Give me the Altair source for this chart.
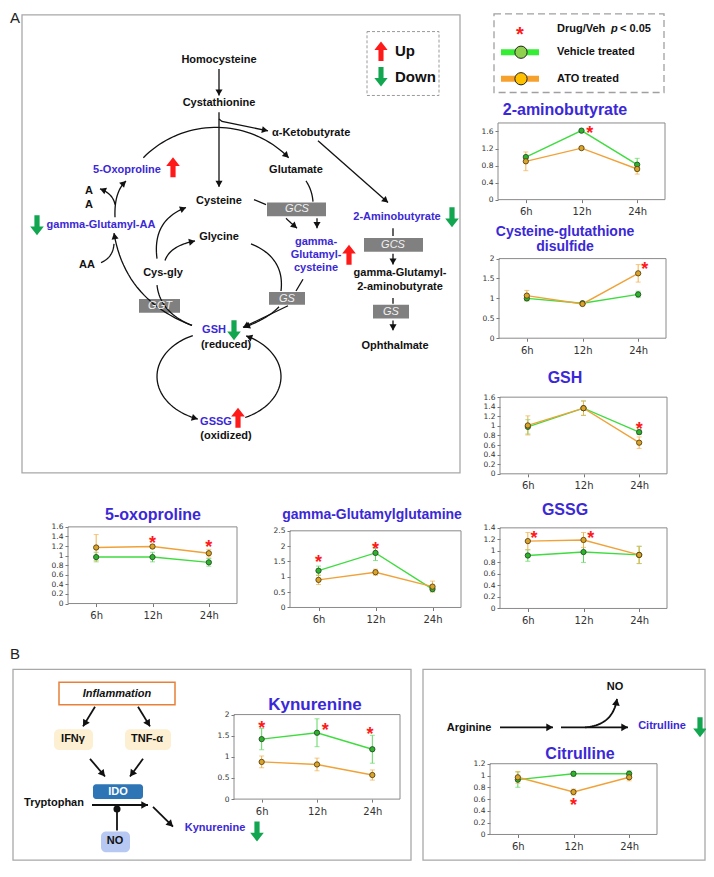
import altair as alt
import numpy as np
import pandas as pd

# ---------------- data ----------------
timepoints = ["6h", "12h", "24h"]

aminobutyrate_vehicle = [1.00, 1.62, 0.82]
aminobutyrate_vehicle_err = [0.04, 0.02, 0.15]
aminobutyrate_ato = [0.90, 1.21, 0.72]
aminobutyrate_ato_err = [0.22, 0.02, 0.12]
aminobutyrate_star_t = [2.15]
aminobutyrate_star_y = [1.66]

cysgsh_vehicle = [1.00, 0.88, 1.10]
cysgsh_vehicle_err = [0.06, 0.03, 0.08]
cysgsh_ato = [1.07, 0.86, 1.63]
cysgsh_ato_err = [0.13, 0.04, 0.22]
cysgsh_star_t = [3.12]
cysgsh_star_y = [1.83]

gsh_vehicle = [0.98, 1.37, 0.87]
gsh_vehicle_err = [0.15, 0.15, 0.05]
gsh_ato = [1.01, 1.37, 0.65]
gsh_ato_err = [0.20, 0.15, 0.12]
gsh_star_t = [3.0]
gsh_star_y = [1.02]

oxoproline_vehicle = [0.97, 0.97, 0.86]
oxoproline_vehicle_err = [0.10, 0.10, 0.08]
oxoproline_ato = [1.17, 1.19, 1.05]
oxoproline_ato_err = [0.27, 0.03, 0.08]
oxoproline_star_t = [2.0, 3.0]
oxoproline_star_y = [1.35, 1.27]

ggg_vehicle = [1.20, 1.78, 0.60]
ggg_vehicle_err = [0.15, 0.25, 0.08]
ggg_ato = [0.90, 1.15, 0.68]
ggg_ato_err = [0.15, 0.10, 0.18]
ggg_star_t = [1.0, 2.0]
ggg_star_y = [1.60, 2.05]

gssg_vehicle = [0.92, 0.98, 0.93]
gssg_vehicle_err = [0.10, 0.18, 0.15]
gssg_ato = [1.17, 1.19, 0.93]
gssg_ato_err = [0.15, 0.13, 0.15]
gssg_star_t = [1.11, 2.13]
gssg_star_y = [1.30, 1.30]

kyn_vehicle = [1.42, 1.57, 1.18]
kyn_vehicle_err = [0.25, 0.33, 0.33]
kyn_ato = [0.88, 0.82, 0.57]
kyn_ato_err = [0.14, 0.15, 0.12]
kyn_star_t = [1.0, 2.15, 2.96]
kyn_star_y = [1.77, 1.74, 1.63]

cit_vehicle = [0.93, 1.03, 1.03]
cit_vehicle_err = [0.13, 0.04, 0.05]
cit_ato = [0.97, 0.72, 0.97]
cit_ato_err = [0.10, 0.05, 0.06]
cit_star_t = [2.0]
cit_star_y = [0.57]

# ---------------- layout / style ----------------
W, H = 698, 854
SY = H / 869.0
FONT = "Liberation Sans"
AXF = "DejaVu Sans"
BLACK = "#111111"
BLUE = "#3b28d6"
RED = "#ff1a1a"
GREEN = "#12a650"


def fx(v):
    return float(v - 8)


def fy(v):
    return float((v - 8) * SY)


DX = alt.Scale(domain=[8, 706], range=[0, W], nice=False, zero=False)
DY = alt.Scale(domain=[8, 877], range=[0, H], nice=False, zero=False)


def XE(f="x"):
    return alt.X(f + ":Q", scale=DX, axis=None)


def YE(f="y"):
    return alt.Y(f + ":Q", scale=DY, axis=None)


def text_layer(rows, weight="bold", style="normal", align="center", font=FONT):
    df = pd.DataFrame(rows, columns=["x", "y", "text", "color", "size"])
    return alt.Chart(df).mark_text(font=font, fontWeight=weight, fontStyle=style,
                                   align=align, baseline="middle").encode(
        x=XE(), y=YE(), text="text:N",
        color=alt.Color("color:N", scale=None),
        size=alt.Size("size:Q", scale=None))


def rect_layer(rows, **kw):
    df = pd.DataFrame(rows, columns=["x", "y", "x2", "y2"])
    return alt.Chart(df).mark_rect(**kw).encode(
        x=XE(), x2="x2:Q", y=YE(), y2="y2:Q")


def qbez(p0, c, p1, n=24):
    t = np.linspace(0, 1, n)
    xs = (1 - t) ** 2 * p0[0] + 2 * (1 - t) * t * c[0] + t ** 2 * p1[0]
    ys = (1 - t) ** 2 * p0[1] + 2 * (1 - t) * t * c[1] + t ** 2 * p1[1]
    return list(zip(xs, ys))


def earc(cx, cy, rx, ry, a0, a1, n=40):
    a = np.radians(np.linspace(a0, a1, n))
    return list(zip(cx + rx * np.cos(a), cy + ry * np.sin(a)))


def path_layers(segments, width, head_size, color=BLACK):
    rows, heads = [], []
    h = 0.866 * np.sqrt(head_size) / 2
    for i, (pts, arrow) in enumerate(segments):
        for j, (px, py) in enumerate(pts):
            rows.append({"seg": i, "order": j, "x": px, "y": py})
        if arrow:
            (x0, y0), (x1, y1) = pts[-2], pts[-1]
            d = np.hypot(x1 - x0, y1 - y0)
            dx, dy = (x1 - x0) / d, (y1 - y0) / d
            ang = float(np.degrees(np.arctan2(dx, -dy)) % 360)
            heads.append({"x": x1 - dx * h, "y": y1 - dy * h, "angle": ang})
    lines = alt.Chart(pd.DataFrame(rows)).mark_line(color=color, strokeWidth=width).encode(
        x=XE(), y=YE(), detail="seg:N", order=alt.Order("order:Q"))
    out = [lines]
    if heads:
        out.append(alt.Chart(pd.DataFrame(heads)).mark_point(
            shape="triangle-up", filled=True, color=color, size=head_size, opacity=1).encode(
            x=XE(), y=YE(), angle=alt.Angle("angle:Q", scale=None)))
    return out


UP_PATH = "M0,-1L0.68,-0.12L0.26,-0.12L0.26,1L-0.26,1L-0.26,-0.12L-0.68,-0.12Z"
DOWN_PATH = "M0,1L0.68,0.12L0.26,0.12L0.26,-1L-0.26,-1L-0.26,0.12L-0.68,0.12Z"


def block_arrows(points, path, color, size=400):
    df = pd.DataFrame(points, columns=["x", "y"])
    return alt.Chart(df).mark_point(shape=path, filled=True, color=color, size=size,
                                    opacity=1).encode(x=XE(), y=YE())


# ---------------- diagram ----------------
layers = []

# panel frames
layers.append(rect_layer([(22, 15, 460, 481), (13, 681, 411, 875), (423, 681, 705, 875)],
                         fillOpacity=0, stroke="#a8a8a8", strokeWidth=1.3))
layers.append(rect_layer([(367, 32, 439, 97)], fillOpacity=0, stroke="#9a9a9a",
                         strokeWidth=1, strokeDash=[3, 2]))
layers.append(rect_layer([(494, 14, 664, 94)], fillOpacity=0, stroke="#a0a0a0",
                         strokeWidth=1.3, strokeDash=[7, 4]))
# enzyme boxes
layers.append(rect_layer([(267, 206, 326, 220), (364, 242, 423, 256), (373, 310, 409, 324),
                          (139, 304, 180, 318), (269, 297, 305, 310)], fill="#808080"))
# glows and boxes of panel B
layers.append(rect_layer([(54, 742, 93, 763), (125, 742, 171, 763)], fill="#fdf0d2",
                         cornerRadius=5))
layers.append(rect_layer([(101, 846, 130, 867)], fill="#b7c9f3", cornerRadius=5))
layers.append(rect_layer([(59, 694, 175, 717)], fill="white", stroke="#e8803a",
                         strokeWidth=1.5))
layers.append(rect_layer([(93, 798, 143, 813)], fill="#2e75b6", cornerRadius=3))

seg_a = [
    ([(219, 70), (219, 97)], True),
    ([(219, 114), (219, 190)], True),
    ([(219, 121), (222, 123.5), (268, 133)], True),
    (earc(216, 230.5, 101, 101, -136, -44), True),
    ([(318, 143), (388, 206)], True),
    (qbez((306, 184), (312, 193), (313, 205)), False),
    ([(317, 222), (317, 232)], True),
    ([(254, 203), (266, 208)], False),
    (qbez((286, 222), (290, 226), (297, 232)), True),
    ([(393, 232), (393, 240)], False),
    ([(393, 258), (393, 269)], True),
    ([(393, 303), (393, 309)], False),
    ([(393, 326), (393, 336)], True),
    ([(303, 284), (296, 296)], False),
    ([(288, 311), (243, 333)], True),
    (qbez((251, 248), (285, 262), (281, 296)), False),
    (qbez((279, 312), (268, 324), (244, 333)), True),
    (qbez((157, 263), (152, 224), (186, 211)), True),
    (qbez((165, 265), (170, 250), (195, 245)), True),
    (qbez((192, 331), (160, 318), (157, 290)), False),
    (qbez((192, 331), (125, 305), (114, 237)), True),
    (qbez((101, 267), (113, 262), (114, 248)), False),
    (qbez((115, 221), (114, 195), (126, 184)), True),
    (qbez((115, 208), (113, 197), (100, 192)), True),
    (earc(219, 383, 62, 46, -115, -250), True),
    (earc(219, 383, 62, 46, 65, -64), True),
]
layers += path_layers(seg_a, 1.3, 50)

seg_b = [
    ([(95, 719), (83, 739)], True),
    ([(138, 719), (150, 739)], True),
    ([(90, 772), (105, 790)], True),
    ([(143, 772), (130, 790)], True),
    ([(92, 819), (148, 819)], True),
    ([(117, 845), (117, 825)], False),
    ([(153, 821), (173, 841)], True),
    ([(500, 740), (553, 740)], True),
    ([(561, 740), (628, 740)], True),
    (qbez((585, 740), (613, 738), (617, 711)), True),
]
layers += path_layers(seg_b, 1.8, 60)
layers.append(alt.Chart(pd.DataFrame({"x": [117], "y": [823]})).mark_point(
    shape="circle", filled=True, color=BLACK, size=50, opacity=1).encode(x=XE(), y=YE()))

# legend markers
layers.append(alt.Chart(pd.DataFrame({"x": [501, 501], "x2": [539, 539], "y": [53, 80],
                                      "c": ["#33ee33", "#f7a12d"]})).mark_rule(strokeWidth=6).encode(
    x=XE(), x2="x2:Q", y=YE(), color=alt.Color("c:N", scale=None)))
layers.append(alt.Chart(pd.DataFrame({"x": [521, 521], "y": [53, 80],
                                      "c": ["#8fd14f", "#ffc000"]})).mark_point(
    shape="circle", filled=True, size=150, stroke="#222222", strokeWidth=1, opacity=1).encode(
    x=XE(), y=YE(), fill=alt.Fill("c:N", scale=None)))

# block arrows
layers.append(block_arrows([(173, 170), (349, 259), (238, 425)], UP_PATH, RED, 400))
layers.append(block_arrows([(37, 229), (452, 221), (234, 336), (257, 846), (700, 740)],
                           DOWN_PATH, GREEN, 400))
layers.append(block_arrows([(381, 52)], UP_PATH, RED, 380))
layers.append(block_arrows([(381, 78)], DOWN_PATH, GREEN, 380))

# texts
bold_center = [
    (219, 61, "Homocysteine", BLACK, 11),
    (219, 105, "Cystathionine", BLACK, 11),
    (296, 173, "Glutamate", BLACK, 11),
    (127, 173, "5-Oxoproline", BLUE, 11),
    (89, 194, "A", BLACK, 11),
    (89, 208, "A", BLACK, 11),
    (101, 229, "gamma-Glutamyl-AA", BLUE, 11),
    (219, 204, "Cysteine", BLACK, 11),
    (219, 241, "Glycine", BLACK, 11),
    (316, 246, "gamma-", BLUE, 11),
    (316, 259, "Glutamyl-", BLUE, 11),
    (316, 273, "cysteine", BLUE, 11),
    (397, 221, "2-Aminobutyrate", BLUE, 11),
    (400, 278, "gamma-Glutamyl-", BLACK, 11),
    (400, 292, "2-aminobutyrate", BLACK, 11),
    (395, 352, "Ophthalmate", BLACK, 11),
    (87, 270, "AA", BLACK, 11),
    (163, 278, "Cys-gly", BLACK, 11),
    (214, 336, "GSH", BLUE, 11),
    (226, 351, "(reduced)", BLACK, 11),
    (216, 429, "GSSG", BLUE, 11),
    (226, 444, "(oxidized)", BLACK, 11),
    (73, 752, "IFNγ", BLACK, 11),
    (147, 752, "TNF-α", BLACK, 11),
    (118, 806, "IDO", "#ffffff", 11),
    (54, 817, "Tryptophan", BLACK, 11),
    (115, 856, "NO", BLACK, 11),
    (215, 842, "Kynurenine", BLUE, 11),
    (469, 741, "Arginine", BLACK, 11),
    (615, 699, "NO", BLACK, 11),
    (662, 739, "Citrulline", BLUE, 11),
    (565, 112, "2-aminobutyrate", BLUE, 16),
    (565, 236, "Cysteine-glutathione", BLUE, 14),
    (565, 251, "disulfide", BLUE, 14),
    (565, 385, "GSH", BLUE, 16),
    (153, 524, "5-oxoproline", BLUE, 16),
    (372, 524, "gamma-Glutamylglutamine", BLUE, 14),
    (565, 519, "GSSG", BLUE, 16),
    (315, 717, "Kynurenine", BLUE, 17),
    (580, 767, "Citrulline", BLUE, 16),
]
bold_left = [
    (272, 135, "α-Ketobutyrate", BLACK, 11),
    (395, 52, "Up", BLACK, 15),
    (395, 78, "Down", BLACK, 15),
    (557, 29, "Drug/Veh", BLACK, 11),
    (620, 29, "< 0.05", BLACK, 11),
    (557, 53, "Vehicle treated", BLACK, 11),
    (557, 80, "ATO treated", BLACK, 11),
]
layers.append(text_layer(bold_center))
layers.append(text_layer(bold_left, align="left"))
layers.append(text_layer([(611, 29, "p", BLACK, 11)], style="italic", align="left"))
layers.append(text_layer([(117, 706, "Inflammation", BLACK, 11)], style="italic"))
layers.append(text_layer([(297, 213, "GCS", "#f2f2f2", 11), (393, 249, "GCS", "#f2f2f2", 11),
                          (391, 317, "GS", "#f2f2f2", 11), (287, 304, "GS", "#f2f2f2", 11),
                          (160, 311, "GGT", "#f2f2f2", 11)], weight="normal", style="italic"))
layers.append(text_layer([(10, 18, "A", "#222222", 15), (10, 665, "B", "#222222", 15)],
                         weight="normal", align="left"))
layers.append(alt.Chart(pd.DataFrame({"x": [520], "y": [30]})).mark_text(
    text="*", font=FONT, fontWeight="bold", fontSize=20, color=RED, baseline="alphabetic",
    dy=11).encode(x=XE(), y=YE()))

diagram = alt.layer(*layers)

# ---------------- line panels ----------------
LABEL_EXPR = ("datum.value == 1 ? '%s' : datum.value == 2 ? '%s' : '%s'"
              % tuple(timepoints))


def panel(veh, veh_err, ato, ato_err, star_t, star_y, ymax, yticks, box):
    left, top, right, bottom = box
    xs = alt.Scale(domain=[0.5, 3.5], range=[fx(left), fx(right)], nice=False, zero=False)
    ys = alt.Scale(domain=[0, ymax], range=[fy(bottom), fy(top)], nice=False, zero=False)
    xaxis = alt.Axis(orient="bottom", offset=-(H - fy(bottom)), values=[1, 2, 3],
                     labelExpr=LABEL_EXPR, title=None, grid=False, domain=False,
                     tickSize=3, tickColor="#777777", labelFont=AXF, labelFontSize=10,
                     labelColor="#333333", labelPadding=4)
    yaxis = alt.Axis(orient="left", offset=-fx(left), values=yticks, format="~g",
                     title=None, grid=False, domain=False, tickSize=3,
                     tickColor="#777777", labelFont=AXF, labelFontSize=7.5,
                     labelColor="#333333", labelPadding=2)
    t = [1, 2, 3]
    dv = pd.DataFrame({"t": t, "v": veh, "lo": np.subtract(veh, veh_err),
                       "hi": np.add(veh, veh_err)})
    da = pd.DataFrame({"t": t, "v": ato, "lo": np.subtract(ato, ato_err),
                       "hi": np.add(ato, ato_err)})
    X = lambda f: alt.X(f + ":Q", scale=xs, axis=xaxis)
    Y = lambda f: alt.Y(f + ":Q", scale=ys, axis=yaxis)
    frame = alt.Chart(pd.DataFrame({"x0": [0.5], "x1": [3.5], "y0": [0], "y1": [ymax]})).mark_rect(
        fillOpacity=0, stroke="#8a8a8a", strokeWidth=1).encode(
        x=X("x0"), x2="x1:Q", y=Y("y0"), y2="y1:Q")
    parts = [frame]
    styles = [(dv, "#3fdc3f", "#5fd85f", "#2bb52b", "#2b4a2b"),
              (da, "#f0a238", "#f2b24e", "#d9a42a", "#5c4212")]
    for d, lc, ec, pf, ps in styles:
        parts.append(alt.Chart(d).mark_rule(color=ec, strokeWidth=1).encode(
            x=X("t"), y=Y("lo"), y2="hi:Q"))
        parts.append(alt.Chart(d).mark_tick(color=ec, orient="horizontal", size=5,
                                            thickness=1).encode(x=X("t"), y=Y("lo")))
        parts.append(alt.Chart(d).mark_tick(color=ec, orient="horizontal", size=5,
                                            thickness=1).encode(x=X("t"), y=Y("hi")))
    for d, lc, ec, pf, ps in styles:
        parts.append(alt.Chart(d).mark_line(color=lc, strokeWidth=1.4).encode(
            x=X("t"), y=Y("v")))
        parts.append(alt.Chart(d).mark_point(shape="circle", filled=True, fill=pf, stroke=ps,
                                             strokeWidth=0.9, size=28, opacity=1).encode(
            x=X("t"), y=Y("v")))
    parts.append(alt.Chart(pd.DataFrame({"t": star_t, "y": star_y})).mark_text(
        text="*", font=FONT, fontWeight="bold", fontSize=18, color=RED,
        baseline="alphabetic", dy=10).encode(x=X("t"), y=Y("y")))
    return alt.layer(*parts)


def ticks(step, top):
    return [round(v, 2) for v in np.arange(0, top + 1e-9, step)]


panels = [
    panel(aminobutyrate_vehicle, aminobutyrate_vehicle_err, aminobutyrate_ato,
          aminobutyrate_ato_err, aminobutyrate_star_t, aminobutyrate_star_y,
          1.8, ticks(0.4, 1.6), (498, 125, 665, 203)),
    panel(cysgsh_vehicle, cysgsh_vehicle_err, cysgsh_ato, cysgsh_ato_err,
          cysgsh_star_t, cysgsh_star_y, 2.0, ticks(0.5, 2.0), (499, 263, 666, 344)),
    panel(gsh_vehicle, gsh_vehicle_err, gsh_ato, gsh_ato_err, gsh_star_t, gsh_star_y,
          1.6, ticks(0.2, 1.6), (500, 404, 667, 482)),
    panel(oxoproline_vehicle, oxoproline_vehicle_err, oxoproline_ato, oxoproline_ato_err,
          oxoproline_star_t, oxoproline_star_y, 1.6, ticks(0.2, 1.6), (68, 536, 237, 614)),
    panel(ggg_vehicle, ggg_vehicle_err, ggg_ato, ggg_ato_err, ggg_star_t, ggg_star_y,
          2.5, ticks(0.5, 2.5), (290, 540, 461, 618)),
    panel(gssg_vehicle, gssg_vehicle_err, gssg_ato, gssg_ato_err, gssg_star_t, gssg_star_y,
          1.4, ticks(0.2, 1.4), (500, 537, 667, 619)),
    panel(kyn_vehicle, kyn_vehicle_err, kyn_ato, kyn_ato_err, kyn_star_t, kyn_star_y,
          2.0, ticks(0.5, 2.0), (234, 727, 400, 813)),
    panel(cit_vehicle, cit_vehicle_err, cit_ato, cit_ato_err, cit_star_t, cit_star_y,
          1.2, ticks(0.2, 1.2), (490, 777, 657, 849)),
]

chart = alt.layer(diagram, *panels).resolve_scale(
    x="independent", y="independent").resolve_axis(
    x="independent", y="independent").properties(
    width=W, height=H, padding=0, autosize=alt.AutoSizeParams(type="none"),
    background="white").configure_view(stroke=None)

chart.save("out.html", embed_options={"renderer": "svg", "actions": False})
